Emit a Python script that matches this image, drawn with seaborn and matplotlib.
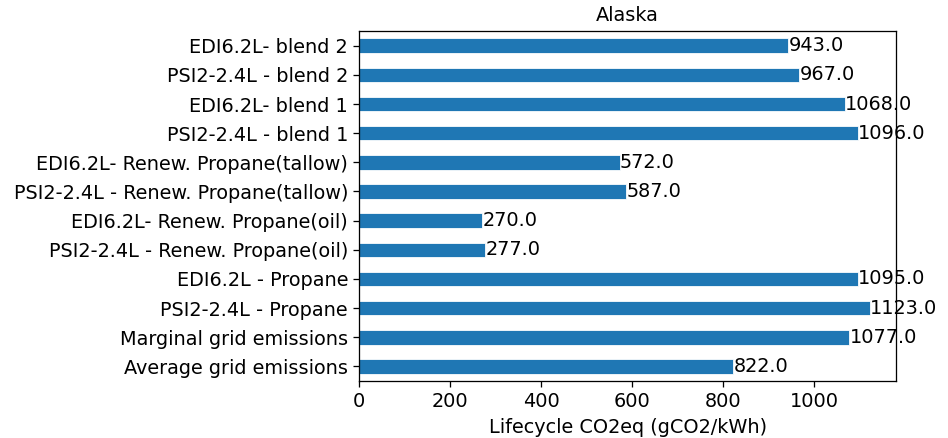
import numpy as np
import pandas as pd
import matplotlib
matplotlib.use("Agg")
import matplotlib.pyplot as plt
import seaborn as sns

categories = [
    "EDI6.2L- blend 2",
    "PSI2-2.4L - blend 2",
    "EDI6.2L- blend 1",
    "PSI2-2.4L - blend 1",
    "EDI6.2L- Renew. Propane(tallow)",
    "PSI2-2.4L - Renew. Propane(tallow)",
    "EDI6.2L- Renew. Propane(oil)",
    "PSI2-2.4L - Renew. Propane(oil)",
    "EDI6.2L - Propane",
    "PSI2-2.4L - Propane",
    "Marginal grid emissions",
    "Average grid emissions",
]

emissions = [943.0, 967.0, 1068.0, 1096.0, 572.0, 587.0,
             270.0, 277.0, 1095.0, 1123.0, 1077.0, 822.0]

df = pd.DataFrame({"scenario": categories, "co2": emissions})

plt.rcdefaults()
plt.rcParams["font.family"] = ["DejaVu Sans"]
plt.rcParams["font.size"] = 12

dpi = 115.5
fig, ax = plt.subplots(figsize=(948 / dpi, 438 / dpi), dpi=dpi)
fig.subplots_adjust(left=0.379, right=0.945, top=0.929, bottom=0.13)

sns.barplot(
    data=df,
    x="co2",
    y="scenario",
    orient="h",
    color="#1f77b4",
    saturation=1,
    width=0.5,
    edgecolor="white",
    linewidth=0.5,
    ax=ax
)

for c in ax.containers:
    ax.bar_label(c, fmt="%.1f", fontsize=12, padding=0)

ax.set_xlim(0, max(emissions) * 1.05)
ax.set_ylim(len(categories) - 0.5, -0.5)

ax.set_title("Alaska", fontsize=12)
ax.set_xlabel("Lifecycle CO2eq (gCO2/kWh)", fontsize=12)
ax.set_ylabel("")
ax.tick_params(labelsize=12)

plt.savefig("out.png", dpi=dpi)
